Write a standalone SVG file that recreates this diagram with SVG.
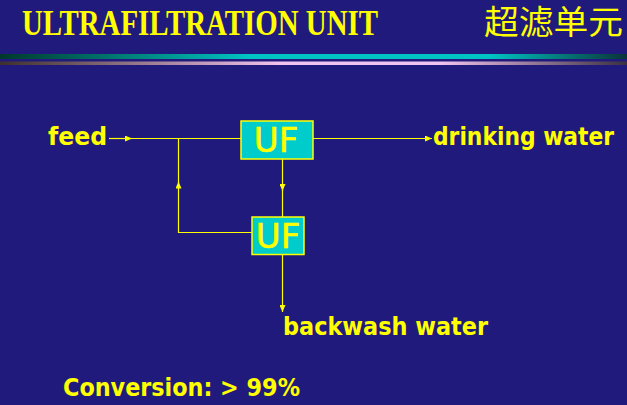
<svg xmlns="http://www.w3.org/2000/svg" width="627" height="405" viewBox="0 0 627 405">
<style>
.lbl{font-family:"DejaVu Sans","Liberation Sans",sans-serif;font-weight:bold;font-size:24px;fill:#ffff00}
.uf{font-family:"DejaVu Sans","Liberation Sans",sans-serif;font-size:34px;fill:#ffff00;stroke:#ffff00;stroke-width:0.6;text-anchor:middle}
.box{fill:#00cccc;stroke:#ffff00;stroke-width:1.5}
.ln{fill:none;stroke:#ffff00;stroke-width:1.2}
</style>
<defs>
<linearGradient id="gTeal" x1="0" x2="1" y1="0" y2="0">
<stop offset="0" stop-color="#00382c"/>
<stop offset="0.4" stop-color="#00c4c4"/>
<stop offset="0.78" stop-color="#00c4c4"/>
<stop offset="1" stop-color="#0a3438"/>
</linearGradient>
<linearGradient id="gPink" x1="0" x2="1" y1="0" y2="0">
<stop offset="0" stop-color="#3e302c"/>
<stop offset="0.45" stop-color="#f2c4f0"/>
<stop offset="0.7" stop-color="#f2c4f0"/>
<stop offset="1" stop-color="#3a3040"/>
</linearGradient>
<marker id="ah" markerUnits="userSpaceOnUse" markerWidth="8" markerHeight="6" refX="7" refY="3" orient="auto">
<path d="M0,0 L7,3 L0,6 Z" fill="#ffff00"/>
</marker>
</defs>
<rect width="627" height="405" fill="#211a7d"/>
<g id="title">
<text x="22" y="34.5" font-family="'Liberation Serif',serif" font-weight="bold" font-size="35.5" fill="#ffff00" textLength="356" lengthAdjust="spacingAndGlyphs">ULTRAFILTRATION UNIT</text>
<text x="484" y="34" font-family="'Noto Sans CJK SC',sans-serif" font-size="33" fill="#ffff00" textLength="139" lengthAdjust="spacingAndGlyphs">超滤单元</text>
<rect x="0" y="54" width="627" height="5" fill="url(#gTeal)"/>
<rect x="0" y="61.5" width="627" height="3.5" fill="url(#gPink)"/>
</g>
<g id="connectors">
<path class="ln" d="M109,138.5 H132" marker-end="url(#ah)"/>
<path class="ln" d="M131,138.5 H241"/>
<path class="ln" d="M313,138.5 H432" marker-end="url(#ah)"/>
<path class="ln" d="M282.5,159 V191" marker-end="url(#ah)"/>
<path class="ln" d="M282.5,190 V217"/>
<path class="ln" d="M252,232.5 H178.5 V181.5" marker-end="url(#ah)"/>
<path class="ln" d="M178.5,183 V138.5"/>
<path class="ln" d="M282.5,254.5 V312" marker-end="url(#ah)"/>
</g>
<g id="feed"><text class="lbl" x="48" y="145" textLength="59" lengthAdjust="spacingAndGlyphs">feed</text></g>
<g id="uf1">
<rect class="box" x="241" y="121" width="72" height="38"/>
<text class="uf" x="276" y="151.5">UF</text>
</g>
<g id="uf2">
<rect class="box" x="252" y="217" width="52" height="37.5"/>
<text class="uf" x="278" y="247.5">UF</text>
</g>
<g id="drinking"><text class="lbl" x="433" y="145" textLength="181" lengthAdjust="spacingAndGlyphs">drinking water</text></g>
<g id="backwash"><text class="lbl" x="283" y="335" textLength="205" lengthAdjust="spacingAndGlyphs">backwash water</text></g>
<g id="conversion"><text class="lbl" x="63" y="396" textLength="237" lengthAdjust="spacingAndGlyphs">Conversion: &gt; 99%</text></g>
</svg>
